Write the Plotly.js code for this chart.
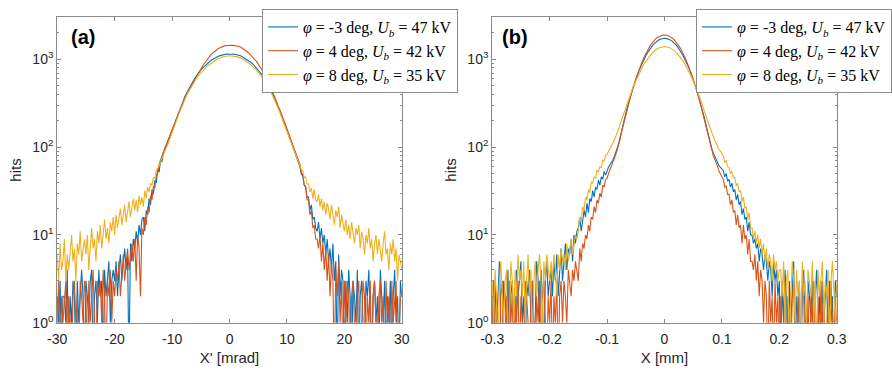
<!DOCTYPE html>
<html>
<head>
<meta charset="utf-8">
<script src="https://cdn.plot.ly/plotly-3.0.1.min.js"></script>
<style>html,body{margin:0;padding:0;background:#fff}#chart{width:892px;height:371px}</style>
</head>
<body>
<div id="chart"></div>
<script>
// ---- Panel (a): X' [mrad], bins from -30 to 30, step 0.25 ----
const binStartA = -30, binStepA = 0.25;
const hitsA_m3 = [
  2,1,3,0,2,2,1,4,0,2, 1,3,2,0,3,1,2,4,2,0, 3,2,1,3,4,0,2,3,1,4, 2,3,0,4,2,3,5,1,3,4, 3,
  5,2,4,6,3,5,7,4,6, 0, 8,5,9,7,11,8,13,10,15,
  16,11,19,17,26,22,33,29,42,39, 57,52,72,68,88,95,104,116,128,141, 155,174,195,217,240,266,295,321,350,380,
  410,443,475,510,545,580,615,652,690,724, 760,790,820,853,885,912,940,972,1000,1022, 1045,1066,1085,1099,1112,1125,1131,1146,1152,1149,
  1155,
  1158,1146,1150,1143,1132,1118,1106,1092,1068,1047,1030,1008, 976,948,922,893,858,822,795,762,722,688,656,622,
  583,548,516,482,443,408,381,352,320,293,268,242, 215,194,176,158,142,128,114,104,93,84,75,68, 60,49,47,37,35,27,27,19,22,15,16,12,
  11,14,9,12,8,10,6,9, 5,7,4,8,3,5,0,6,2,4,3,0,
  3,1,4,2,0,3,2,1,4,0, 2,3,1,0,3,2,4,1,0,2, 3,1,2,0,4,2,1,3,0,2, 1,3,0,2,4,1,2,0,3,2];
const hitsA_4 = [
  1,3,0,2,1,2,3,0,2,1, 0,2,3,1,2,0,3,2,1,3, 2,0,3,1,2,4,1,0,3,2, 3,1,4,2,0,3,2,4,1,3, 2,
  4,3,5,2,4,6,3,5,7, 4,6,8,5,9,3,10,7,2,12,
  10,16,13,21,18,28,25,36,34,48, 50,64,70,79,88,98,108,119,130,144, 158,176,195,214,235,260,285,310,335,365,
  395,424,455,490,525,562,600,645,690,735, 780,830,880,930,980,1030,1080,1125,1170,1212, 1250,1288,1322,1350,1378,1402,1423,1436,1442,1450,
  1458,
  1452,1447,1445,1438,1424,1406,1392,1373,1342,1308,1276,1242, 1200,1158,1116,1072,1025,978,936,892,840,788,740,692,
  645,598,556,512,470,428,394,362,330,298,272,247, 222,198,180,162,146,132,119,108,97,88,80,72, 64,51,49,37,36,25,25,17,19,12,13,9,
  9,7,10,5,8,4,7,3, 6,2,5,3,0,4,2,5,1,3,0,3,
  1,3,2,0,2,3,1,0,2,3, 0,1,3,2,0,2,1,3,0,2, 3,1,0,2,3,1,2,0,3,1, 2,0,3,1,2,3,0,1,2,2];
const hitsA_8 = [
  6,3,8,4,5,9,3,6,4,7, 10,5,7,3,8,6,11,5,7,9, 6,10,4,8,12,7,9,5,11,8, 13,7,10,15,9,12,8,14,11,16, 10,
  17,12,15,20,13,18,22,14,19, 24,16,21,26,19,25,18,28,22,27,
  21,32,26,35,31,39,37,45,44,54, 57,62,68,75,82,90,98,107,118,130, 142,160,178,198,220,245,270,297,325,355,
  385,415,445,478,510,542,575,608,640,670, 700,730,760,790,820,848,875,900,925,952, 975,998,1020,1040,1057,1066,1078,1090,1097,1094,
  1100,
  1098,1093,1092,1087,1075,1062,1050,1038,1016,993,970,947, 918,888,862,837,805,773,745,717,682,648,618,587,
  552,518,488,457,422,388,360,332,302,273,248,224, 200,178,162,145,131,118,108,98,90,82,75,68, 63,55,54,45,46,38,38,31,34,26,33,25,
  24,29,21,26,19,24,17,23, 20,15,22,17,13,19,16,21,12,17,14,11,
  15,10,13,9,14,11,8,12,10,13, 7,11,9,6,10,8,12,7,9,5, 8,10,6,9,7,5,8,11,6,7, 4,8,6,9,5,7,3,6,5,4];

// ---- Panel (b): X [mm], bins from -0.3 to 0.3, step 0.0025 ----
const binStartB = -0.3, binStepB = 0.0025;
const hitsB_m3 = [
  2,0,3,1,2,5,1,0,3,2, 1,4,0,2,3,1,0,4,2,3, 5,1,2,0,3,2,4,1,3,0, 2,5,3,1,4,2,0,3,5,2, 3,
  4,2,5,3,6,2,4,7,3, 5,8,4,7,6,9,5,10,8,11,
  12,16,11,15,19,16,23,18,26,24, 32,27,35,33,42,37,46,43,53,48, 54,59,63,66,71,78,86,96,108,128,
  152,178,208,242,282,322,365,418,472,528, 588,655,728,798,870,948,1025,1102,1180,1255, 1325,1395,1462,1524,1580,1625,1665,1698,1720,1735,
  1740,
  1736,1718,1695,1668,1625,1576,1522,1466,1398,1330, 1255,1176,1100,1022,948,874,798,722,655,592,
  528,468,418,368,322,278,242,210,178,150, 128,110,96,86,78,72,66,61,59,56, 54,46,50,41,43,35,39,31,33,25, 29,22,24,17,20,15,16,11,14,10,
  10,8,9,7,8,5,7,6,4,6,5,3,5,4,2,5,3,4,2,3,
  0,3,1,4,2,0,3,1,2,5, 0,2,1,3,0,2,4,1,0,3, 2,1,3,0,2,4,1,2,0,3, 1,2,4,0,3,1,2,0,3,2];
const hitsB_4 = [
  1,3,0,2,1,0,2,3,0,1, 2,0,3,1,2,0,2,1,3,0, 2,1,0,3,2,1,0,2,3,1, 0,2,1,3,0,2,3,1,0,2, 1,
  3,0,2,1,3,0,2,3,1, 3,2,1,4,3,2,4,3,5,4,
  3,7,5,8,7,10,9,13,11,16, 15,21,18,25,23,30,27,37,35,43, 44,50,55,60,65,73,82,92,104,122,
  146,170,198,232,272,312,358,415,476,535, 598,672,752,828,908,995,1082,1170,1258,1345, 1432,1512,1588,1662,1728,1775,1818,1852,1878,1895,
  1900,
  1896,1882,1855,1822,1775,1722,1660,1592,1512,1428, 1345,1262,1170,1078,995,912,828,748,672,602,
  535,474,415,362,312,268,232,202,170,144, 122,106,92,80,73,67,60,53,50,46, 43,35,36,29,29,22,25,18,19,13, 17,12,13,8,13,9,10,6,9,5,
  5,4,6,3,5,2,4,3,1,3,2,0,3,1,2,0,3,1,2,0,
  2,0,1,3,0,2,1,0,2,3, 1,0,2,1,0,3,2,0,1,2, 0,2,1,3,0,1,2,0,3,1, 2,0,1,2,0,3,1,0,2,1];
const hitsB_8 = [
  3,1,4,2,0,3,5,2,1,3, 4,0,2,5,3,1,4,2,6,3, 4,2,5,1,3,6,2,4,0,3, 5,2,4,6,3,1,5,3,6,4, 3,
  5,3,6,4,2,6,4,7,5, 6,4,8,5,7,9,6,8,10,9,
  11,16,14,21,19,27,25,33,30,40, 39,46,44,55,52,60,58,71,70,80, 82,90,96,102,109,120,132,144,158,180,
  202,224,248,282,318,352,388,432,478,522, 568,622,678,730,782,842,902,955,1008,1065, 1118,1162,1208,1252,1292,1322,1348,1372,1390,1396,
  1400,
  1396,1385,1370,1352,1322,1288,1252,1212,1162,1112, 1062,1012,955,898,842,788,730,672,622,572,
  522,472,432,392,352,312,282,252,224,198, 180,162,144,128,120,111,102,93,90,84, 80,67,71,60,59,50,53,45,45,36, 39,31,32,24,27,20,21,15,18,12,
  12,9,11,8,10,7,9,6,8,5,7,4,6,5,3,6,4,5,3,4,
  4,2,5,1,3,4,0,2,5,3, 1,4,2,3,0,5,2,3,1,4, 3,2,5,1,3,0,4,2,3,5, 1,3,2,4,0,3,5,2,1,3];

const seriesNames = [
  '<i>φ</i> = -3 deg, <i>U</i><sub><i>b</i></sub> = 47 kV',
  '<i>φ</i> = 4 deg, <i>U</i><sub><i>b</i></sub> = 42 kV',
  '<i>φ</i> = 8 deg, <i>U</i><sub><i>b</i></sub> = 35 kV'
];
const seriesColors = ['#0072BD', '#D95319', '#EDB120'];
const ticksA = [-30,-20,-10,0,10,20,30];
const ticksALabels = ['-30','-20','-10','0','10','20','30'];
const ticksB = [-0.3,-0.2,-0.1,0,0.1,0.2,0.3];
const ticksBLabels = ['-0.3','-0.2','-0.1','0','0.1','0.2','0.3'];
const yTicks = [1,10,100,1000];
const yTickLabels = ['10<sup>0</sup>','10<sup>1</sup>','10<sup>2</sup>','10<sup>3</sup>'];
const yMinor = [2,3,4,5,6,7,8,9,20,30,40,50,60,70,80,90,200,300,400,500,600,700,800,900,2000,3000];

function bins(start, step, n){ const a=[]; for(let i=0;i<n;i++) a.push(+(start+step*i).toFixed(6)); return a; }
// empty bins (0 hits) drop below the bottom of the log axis, as in the original
function forLog(v){ return v.map(h => h > 0 ? h : 0.3); }

const xA = bins(binStartA, binStepA, hitsA_m3.length);
const xB = bins(binStartB, binStepB, hitsB_m3.length);
const traces = [];
[hitsA_m3, hitsA_4, hitsA_8].forEach((h,k)=>traces.push({
  x:xA, y:forLog(h), type:'scatter', mode:'lines', name:seriesNames[k],
  line:{color:seriesColors[k], width:1.1}, xaxis:'x', yaxis:'y', legend:'legend', hoverinfo:'skip'}));
[hitsB_m3, hitsB_4, hitsB_8].forEach((h,k)=>traces.push({
  x:xB, y:forLog(h), type:'scatter', mode:'lines', name:seriesNames[k],
  line:{color:seriesColors[k], width:1.1}, xaxis:'x2', yaxis:'y2', legend:'legend2', hoverinfo:'skip'}));

const tickFont = {family:'Liberation Sans, Arial, sans-serif', size:14, color:'#262626'};
const axLine = '#8a8a8a';
function xax(domain, range, vals, text, title, anchor){
  return {domain, range, tickmode:'array', tickvals:vals, ticktext:text, ticks:'inside', ticklen:4,
    tickcolor:axLine, showline:true, linecolor:axLine, linewidth:1, mirror:'ticks', showgrid:false,
    zeroline:false, tickfont:tickFont, anchor, automargin:false, ticklabelstandoff:4,
    title:{text:title, font:{family:'Liberation Sans, Arial, sans-serif', size:15, color:'#262626'}, standoff:6}};
}
function yax(anchor){
  return {domain:[0.1302,0.9534], type:'log', range:[0,3.48], tickmode:'array', tickvals:yTicks, ticktext:yTickLabels,
    ticks:'inside', ticklen:4, tickcolor:axLine, showline:true, linecolor:axLine, linewidth:1, mirror:'ticks',
    showgrid:false, zeroline:false, tickfont:tickFont, anchor, automargin:false,
    minor:{tickvals:yMinor, ticks:'inside', ticklen:2, tickcolor:axLine, showgrid:false},
    title:{text:'hits', font:{family:'Liberation Sans, Arial, sans-serif', size:15, color:'#262626'}, standoff:7}};
}
const legFont = {family:'Liberation Serif, DejaVu Serif, serif', size:16, color:'#000'};
const layout = {
  width:892, height:371, margin:{l:0,r:0,t:0,b:0}, paper_bgcolor:'#fff', plot_bgcolor:'#fff',
  showlegend:true,
  xaxis: xax([0.0642,0.4510], [-30,30], ticksA, ticksALabels, "X' [mrad]", 'y'),
  yaxis: yax('x'),
  xaxis2: xax([0.5524,0.9391], [-0.3,0.3], ticksB, ticksBLabels, 'X [mm]', 'y2'),
  yaxis2: yax('x2'),
  legend:{x:0.2937, y:0.9757, xanchor:'left', yanchor:'top', bgcolor:'#fff', bordercolor:'#8a8a8a', borderwidth:1,
    font:legFont, tracegroupgap:0, itemwidth:30},
  legend2:{x:0.7814, y:0.9757, xanchor:'left', yanchor:'top', bgcolor:'#fff', bordercolor:'#8a8a8a', borderwidth:1,
    font:legFont, tracegroupgap:0, itemwidth:30},
  annotations:[
    {text:'<b>(a)</b>', x:0.0935, y:0.900, xref:'paper', yref:'paper', xanchor:'center', yanchor:'middle', showarrow:false, font:{family:'Liberation Sans, Arial, sans-serif', size:20, color:'#000'}},
    {text:'<b>(b)</b>', x:0.578, y:0.900, xref:'paper', yref:'paper', xanchor:'center', yanchor:'middle', showarrow:false, font:{family:'Liberation Sans, Arial, sans-serif', size:20, color:'#000'}}
  ]
};
Plotly.newPlot('chart', traces, layout, {staticPlot:true, displayModeBar:false});
</script>
</body>
</html>
